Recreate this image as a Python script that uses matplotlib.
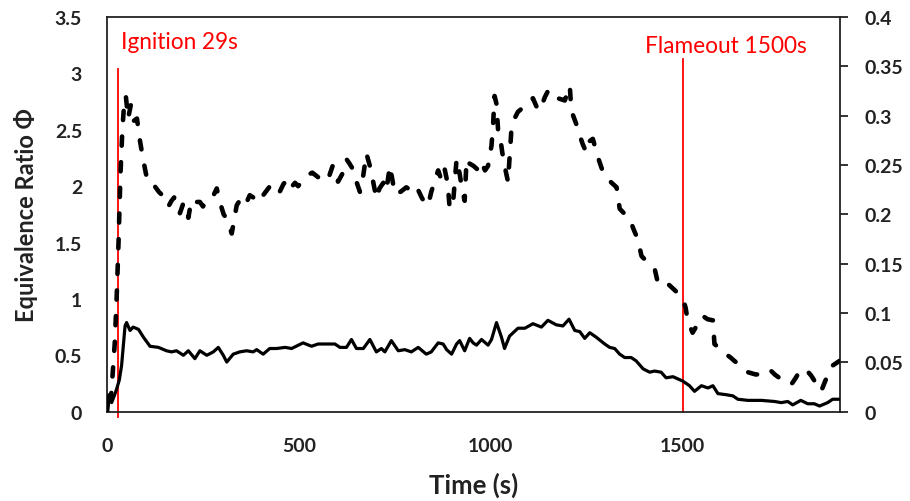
import matplotlib.pyplot as plt

# solid trace (left axis units)
t_solid = [0, 5, 12, 20, 25, 32, 38, 47, 51, 60, 68, 82, 95, 112, 134, 155, 168, 181, 199,
           212, 229, 242, 260, 277, 290, 303, 312, 329, 346, 364, 381, 390, 407, 424, 442,
           464, 481, 511, 533, 550, 594, 607, 624, 637, 650, 668, 685, 702, 715, 724, 741,
           759, 776, 793, 811, 832, 845, 863, 876, 885, 898, 911, 919, 932, 945, 954, 963,
           976, 993, 1002, 1015, 1028, 1036, 1049, 1071, 1089, 1110, 1132, 1149, 1171, 1188,
           1204, 1219, 1232, 1245, 1258, 1275, 1297, 1310, 1323, 1336, 1349, 1366, 1379,
           1397, 1414, 1427, 1444, 1457, 1475, 1501, 1518, 1531, 1549, 1566, 1579, 1592,
           1614, 1631, 1644, 1670, 1705, 1740, 1757, 1774, 1787, 1808, 1826, 1843, 1857,
           1878, 1891, 1906]
phi_solid = [0.05, 0.15, 0.08, 0.15, 0.2, 0.28, 0.41, 0.76, 0.79, 0.72, 0.75, 0.73, 0.66, 0.58,
             0.57, 0.54, 0.53, 0.54, 0.50, 0.54, 0.47, 0.54, 0.50, 0.53, 0.57, 0.50, 0.44,
             0.51, 0.53, 0.54, 0.53, 0.55, 0.51, 0.56, 0.56, 0.57, 0.56, 0.61, 0.58, 0.60,
             0.60, 0.57, 0.57, 0.64, 0.56, 0.56, 0.64, 0.53, 0.56, 0.53, 0.63, 0.54, 0.55,
             0.53, 0.57, 0.51, 0.53, 0.61, 0.60, 0.55, 0.51, 0.60, 0.63, 0.54, 0.65, 0.61,
             0.59, 0.64, 0.59, 0.64, 0.79, 0.66, 0.56, 0.67, 0.74, 0.74, 0.78, 0.75, 0.81,
             0.77, 0.76, 0.82, 0.72, 0.71, 0.65, 0.70, 0.66, 0.60, 0.57, 0.56, 0.51, 0.48,
             0.48, 0.45, 0.38, 0.35, 0.36, 0.35, 0.30, 0.31, 0.27, 0.23, 0.18, 0.23, 0.21,
             0.23, 0.16, 0.15, 0.14, 0.11, 0.10, 0.10, 0.09, 0.08, 0.09, 0.06, 0.10, 0.07,
             0.07, 0.05, 0.08, 0.11, 0.11]

# dashed trace (left axis units)
t_dashed = [0, 5, 10, 15, 20, 25, 30, 35, 40, 45, 49, 55, 62, 70, 78, 86, 94, 105, 112, 120,
            135, 150, 160, 168, 175, 181, 190, 199, 205, 212, 220, 230, 242, 250, 262, 275,
            286, 294, 304, 312, 325, 338, 347, 355, 364, 372, 381, 390, 398, 407, 418, 429,
            440, 450, 460, 471, 480, 490, 498, 510, 524, 535, 550, 565, 578, 588, 595, 602,
            615, 624, 632, 641, 650, 659, 668, 676, 685, 693, 702, 710, 720, 728, 737, 744,
            750, 765, 780, 793, 806, 820, 830, 837, 845, 850, 857, 863, 872, 880, 888, 893,
            902, 911, 919, 924, 932, 937, 945, 955, 965, 975, 985, 993, 1002, 1006, 1010,
            1015, 1020, 1026, 1030, 1038, 1045, 1054, 1062, 1071, 1085, 1100, 1110, 1120,
            1128, 1141, 1150, 1158, 1175, 1193, 1206, 1210, 1223, 1232, 1240, 1249, 1258,
            1266, 1279, 1290, 1300, 1315, 1328, 1336, 1350, 1362, 1372, 1383, 1393, 1410,
            1427, 1435, 1444, 1455, 1466, 1485, 1501, 1508, 1513, 1526, 1540, 1552, 1565,
            1579, 1583, 1600, 1613, 1625, 1635, 1650, 1670, 1690, 1713, 1728, 1740, 1760,
            1783, 1795, 1805, 1820, 1835, 1848, 1861, 1875, 1887, 1909]
phi_dashed = [0.0, 0.17, 0.1, 0.35, 0.6, 1.0, 1.5, 2.1, 2.5, 2.75, 2.8, 2.6, 2.72, 2.58, 2.6,
              2.4, 2.24, 2.05, 2.03, 2.02, 1.95, 1.9, 1.82, 1.87, 1.9, 1.85, 1.76, 1.85, 1.83,
              1.72, 1.88, 1.86, 1.86, 1.82, 1.88, 1.9, 1.98, 1.86, 1.75, 1.71, 1.58, 1.83,
              1.88, 1.91, 1.86, 1.92, 1.90, 1.95, 1.91, 1.92, 1.97, 2.02, 2.0, 1.95, 2.02,
              2.06, 1.99, 2.03, 2.0, 2.05, 2.1, 2.12, 2.08, 2.12, 2.08, 2.18, 2.1, 2.04, 2.12,
              2.24, 2.2, 2.15, 2.04, 1.95, 2.1, 2.29, 2.18, 2.05, 1.89, 1.98, 2.03, 1.96,
              2.18, 2.05, 1.93, 1.95, 1.99, 1.96, 2.0, 1.9, 1.84, 1.83, 1.95, 2.0, 2.08,
              2.14, 2.05, 2.15, 2.02, 1.8, 1.86, 2.24, 2.11, 2.0, 1.87, 2.24, 2.2, 2.18,
              2.15, 2.22, 2.14, 2.18, 2.36, 2.54, 2.8, 2.73, 2.45, 2.4, 2.3, 2.15, 2.04,
              2.51, 2.6, 2.66, 2.7, 2.76, 2.78, 2.7, 2.67, 2.79, 2.85, 2.8, 2.78, 2.76,
              2.89, 2.67, 2.55, 2.45, 2.37, 2.3, 2.4, 2.42, 2.26, 2.15, 2.08, 2.03, 1.99,
              1.80, 1.75, 1.71, 1.62, 1.53, 1.38, 1.32, 1.27, 1.15, 1.17, 1.15, 1.12, 1.06,
              1.0, 0.92, 0.81, 0.70, 0.78, 0.85, 0.82, 0.81, 0.60, 0.55, 0.51, 0.48, 0.45,
              0.41, 0.35, 0.33, 0.33, 0.37, 0.33, 0.28, 0.24, 0.3, 0.36, 0.38, 0.32, 0.25,
              0.18, 0.3, 0.40, 0.45]

x_ticks = [0, 500, 1000, 1500]
left_ticks = [0, 0.5, 1, 1.5, 2, 2.5, 3, 3.5]
left_labels = ["0", "0.5", "1", "1.5", "2", "2.5", "3", "3.5"]
right_ticks = [0, 0.05, 0.1, 0.15, 0.2, 0.25, 0.3, 0.35, 0.4]
right_labels = ["0", "0.05", "0.1", "0.15", "0.2", "0.25", "0.3", "0.35", "0.4"]

events = [("Ignition 29s", 29, 3.04), ("Flameout 1500s", 1500, 3.13)]

plt.rcParams['font.family'] = ['Lato', 'DejaVu Sans']
ink = '#222222'

fig = plt.figure(figsize=(9.1, 5.02), dpi=100)
ax = fig.add_axes([0.1176, 0.178, 0.8054, 0.786])

ax.plot(t_dashed, phi_dashed, color='black', lw=3.3, linestyle=(0, (2.0, 3.6)),
        dash_capstyle='round', solid_capstyle='round', zorder=3)
ax.plot(t_solid, phi_solid, color='black', lw=2.3, zorder=3)

# event markers
for label, t, top in events:
    ax.plot([t, t], [-0.05 if t < 100 else 0, top], color='red', lw=1.3, clip_on=False, zorder=2)
ign_label, ign_t, _ = events[0]
ax.text(ign_t + 7, 3.28, ign_label, color='red', fontsize=16.3, va='center', ha='left')
fo_label, fo_t, _ = events[1]
ax.text(fo_t - 99, 3.25, fo_label, color='red', fontsize=16.3, va='center', ha='left')

ax.set_xlim(0, 1910)
ax.set_ylim(0, 3.5)
ax.set_xticks(x_ticks)
ax.set_xticklabels([str(v) for v in x_ticks])
ax.set_yticks(left_ticks)
ax.set_yticklabels(left_labels)
ax.tick_params(axis='x', length=0, pad=18, labelsize=14)
ax.tick_params(axis='y', length=0, pad=18, labelsize=14)
for lab in ax.get_xticklabels() + ax.get_yticklabels():
    lab.set_fontweight('bold')
    lab.set_color(ink)

for side in ['left', 'bottom', 'top', 'right']:
    ax.spines[side].set_linewidth(1.3)
    ax.spines[side].set_color(ink)

ax.set_xlabel("Time (s)", fontsize=18.5, fontweight='bold', color=ink, labelpad=13)
ax.set_ylabel("Equivalence Ratio Φ", fontsize=17, fontweight='bold', color=ink, labelpad=12)

ax2 = ax.twinx()
ax2.set_ylim(0, 0.4)
ax2.set_yticks(right_ticks)
ax2.set_yticklabels(right_labels)
ax2.tick_params(axis='y', length=6, width=1.3, pad=12, labelsize=14, color=ink)
for lab in ax2.get_yticklabels():
    lab.set_fontweight('bold')
    lab.set_color(ink)
for side in ['left', 'bottom', 'top', 'right']:
    ax2.spines[side].set_visible(False)

fig.savefig("out.png", dpi=100)
